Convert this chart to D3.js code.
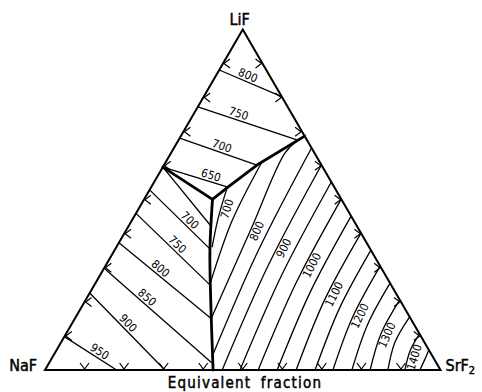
<!DOCTYPE html>
<html>
<head>
<meta charset="utf-8">
<script src="https://cdn.jsdelivr.net/npm/d3@7/dist/d3.min.js"></script>
<style>
  html, body { margin: 0; padding: 0; background: #fff; }
  svg { display: block; font-family: "DejaVu Sans Condensed", "DejaVu Sans", sans-serif; }
</style>
</head>
<body>
<svg id="chart" width="482" height="392"></svg>
<script>
// Ternary system NaF – LiF – SrF2, equivalent fractions.
// Every composition is written as [SrF2, LiF]; NaF is the remainder.
const vertexNames = ["NaF", "LiF", "SrF2"];
const tickFractions = [0.1, 0.2, 0.3, 0.4, 0.5, 0.6, 0.7, 0.8, 0.9];

// Boundary curves between the primary fields (meet at the ternary eutectic)
const boundaryNaFLiF  = [[0, 0.596], [0.173, 0.501]];
const boundaryLiFSrF2 = [[0.173, 0.501], [0.194, 0.537], [0.235, 0.602], [0.313, 0.687]];
const boundaryNaFSrF2 = [[0.173, 0.501], [0.241, 0.352], [0.316, 0.206], [0.425, 0]];

// Liquidus isotherms in the LiF field (°C)
const lifTemps  = [800, 750, 700, 650];
const lifLines  = [
  [[0, 0.881], [0.197, 0.803]],
  [[0, 0.773], [0.299, 0.676]],
  [[0, 0.681], [0.235, 0.602]],
  [[0, 0.596], [0.194, 0.537]]
];
const lifLabelAt = [0.42, 0.39, 0.52, 0.71];

// Liquidus isotherms in the NaF field (°C)
const nafTemps  = [650, 700, 750, 800, 850, 900, 950];
const nafLines  = [
  [[0, 0.596], [0.208, 0.423]],
  [[0, 0.529], [0.240, 0.355]],
  [[0, 0.460], [0.292, 0.250]],
  [[0, 0.374], [0.342, 0.153]],
  [[0, 0.299], [0.411, 0.021]],
  [[0, 0.226], [0.303, 0]],
  [[0, 0.098], [0.181, 0]]
];
const nafLabelAt = [null, 0.59, 0.50, 0.41, 0.36, 0.45, 0.61];

// Liquidus isotherms in the SrF2 field (°C)
const srfTemps  = [700, 750, 800, 850, 900, 950, 1000, 1050, 1100, 1150, 1200, 1250, 1300, 1350, 1400, 1450];
const srfLines  = [
  [[0.193, 0.535], [0.214, 0.449], [0.242, 0.361]],
  [[0.243, 0.611], [0.254, 0.438], [0.291, 0.253]],
  [[0.301, 0.673], [0.288, 0.637], [0.314, 0.414], [0.345, 0.147]],
  [[0.348, 0.652], [0.364, 0.350], [0.403, 0.038]],
  [[0.398, 0.602], [0.411, 0.306], [0.448, 0]],
  [[0.448, 0.552], [0.459, 0.281], [0.493, 0]],
  [[0.498, 0.502], [0.507, 0.256], [0.539, 0]],
  [[0.548, 0.452], [0.556, 0.231], [0.587, 0]],
  [[0.598, 0.402], [0.604, 0.206], [0.635, 0]],
  [[0.648, 0.352], [0.654, 0.181], [0.683, 0]],
  [[0.695, 0.305], [0.700, 0.157], [0.728, 0]],
  [[0.745, 0.255], [0.749, 0.133], [0.776, 0]],
  [[0.794, 0.206], [0.796, 0.108], [0.822, 0]],
  [[0.844, 0.156], [0.844, 0.082], [0.867, 0]],
  [[0.894, 0.106], [0.895, 0.056], [0.910, 0]],
  [[0.941, 0.059], [0.945, 0.029], [0.948, 0]]
];
const srfLabelAt = [0.33, null, 0.5, null, 0.40, null, 0.38, null, 0.44, null, 0.47, null, 0.49, null, 0.62, null];

const axisTitle = "Equivalent fraction";

// ---- scales: ternary (SrF2, LiF) -> screen ----
const svg = d3.select("#chart");
const xScale = d3.scaleLinear().domain([0, 1]).range([45, 440.5]);
const yScale = d3.scaleLinear().domain([0, 1]).range([370, 29.5]);
const px = d => xScale(d[0] + d[1] / 2);
const py = d => yScale(d[1]);

const straight = d3.line().x(px).y(py);
const smooth = d3.line().x(px).y(py).curve(d3.curveCatmullRom.alpha(0.5));

// ---- triangle frame ----
const corners = [[0, 0], [0, 1], [1, 0]];
svg.append("path")
  .attr("d", straight(corners) + "Z")
  .attr("fill", "none").attr("stroke", "#000")
  .attr("stroke-width", 2).attr("stroke-linejoin", "miter");

// ---- composition ticks (chevrons pointing at each edge) ----
const tickG = svg.append("g").attr("fill", "none").attr("stroke", "#000").attr("stroke-width", 1.2);
tickFractions.forEach(f => {
  const l = [0, f], r = [1 - f, f], b = [f, 0];
  tickG.append("path").attr("d", `M${px(l) + 7},${py(l) - 4.5}L${px(l) + 1},${py(l)}L${px(l) + 7},${py(l) + 4.5}`);
  tickG.append("path").attr("d", `M${px(r) - 7},${py(r) - 4.5}L${px(r) - 1},${py(r)}L${px(r) - 7},${py(r) + 4.5}`);
  tickG.append("path").attr("d", `M${px(b) - 4.5},${py(b) - 7}L${px(b)},${py(b) - 1}L${px(b) + 4.5},${py(b) - 7}`);
});

// ---- isotherms ----
const isoG = svg.append("g").attr("fill", "none").attr("stroke", "#000").attr("stroke-width", 1.3);
const labelG = svg.append("g");

// offset: distance of the label centre from its line, measured along the
// text's own vertical (negative = above the line)
function drawField(lines, temps, labelAt, gen, offset) {
  lines.forEach((pts, i) => {
    const path = isoG.append("path").attr("d", gen(pts));
    const t = labelAt[i];
    if (t == null) return;
    const node = path.node();
    const len = node.getTotalLength();
    const s = t * len;
    const p = node.getPointAtLength(s);
    const a = node.getPointAtLength(Math.max(0, s - 2));
    const b = node.getPointAtLength(Math.min(len, s + 2));
    let ang = Math.atan2(b.y - a.y, b.x - a.x) * 180 / Math.PI;
    if (ang > 90) ang -= 180;
    if (ang < -90) ang += 180;
    labelG.append("text")
      .attr("transform", `translate(${p.x},${p.y}) rotate(${ang})`)
      .attr("text-anchor", "middle")
      .attr("dominant-baseline", "central")
      .attr("y", offset)
      .attr("font-size", 11.5)
      .attr("fill", "#000")
      .text(temps[i]);
  });
}
drawField(lifLines, lifTemps, lifLabelAt, straight, -6.5);
drawField(nafLines, nafTemps, nafLabelAt, straight, -6.5);
drawField(srfLines, srfTemps, srfLabelAt, smooth, 6);

// ---- field boundaries ----
const bG = svg.append("g").attr("fill", "none").attr("stroke", "#000")
  .attr("stroke-width", 2.8).attr("stroke-linejoin", "round").attr("stroke-linecap", "round");
bG.append("path").attr("d", straight(boundaryNaFLiF));
bG.append("path").attr("d", straight(boundaryLiFSrF2));
bG.append("path").attr("d", smooth(boundaryNaFSrF2));

// ---- vertex names and axis title ----
const txtG = svg.append("g").attr("fill", "#000").attr("stroke", "#000")
  .attr("stroke-width", 0.45).attr("font-size", 16);
txtG.append("text").attr("x", px(corners[1]) - 3).attr("y", 25)
  .attr("text-anchor", "middle").text(vertexNames[1]);
txtG.append("text").attr("x", px(corners[0]) - 8).attr("y", 371)
  .attr("text-anchor", "end").text(vertexNames[0]);
const sr = txtG.append("text").attr("x", px(corners[2]) + 5).attr("y", 371);
sr.append("tspan").text(vertexNames[2].slice(0, 3));
sr.append("tspan").attr("font-size", 11).attr("dy", 3).text(vertexNames[2].slice(3));
txtG.append("text").attr("x", 245).attr("y", 388)
  .attr("text-anchor", "middle").attr("font-size", 15)
  .attr("letter-spacing", 1.2).attr("word-spacing", 4)
  .text(axisTitle);
</script>
</body>
</html>
